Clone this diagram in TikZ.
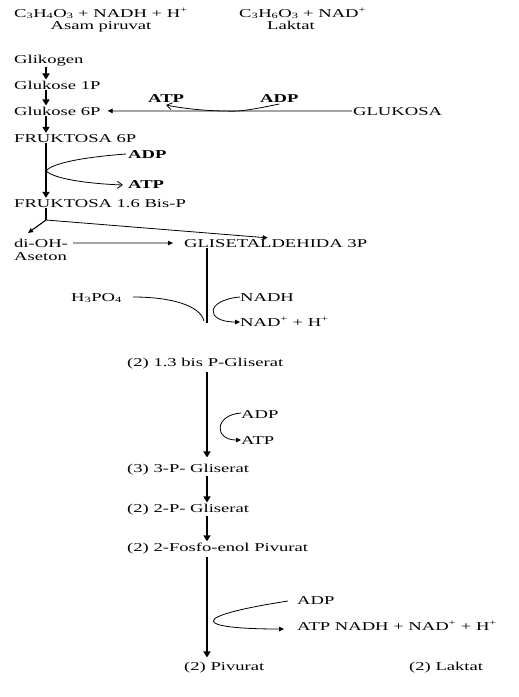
\documentclass[tikz,border=0pt]{standalone}
\usepackage{fontspec}
\setmainfont{Liberation Serif}[FakeStretch=1.55]
\usetikzlibrary{arrows.meta,calc}
\begin{document}
\begin{tikzpicture}[x=1pt,y=-1pt,
  txt/.style={anchor=base west, inner sep=1pt, font=\fontsize{12}{14}\selectfont},
  bld/.style={txt, font=\fontsize{12}{14}\selectfont\bfseries},
  ln/.style={line width=0.8pt},
  fa/.style={ln, -{Triangle[length=5pt,width=4.5pt]}},
  oa/.style={ln, -{Straight Barb[length=5pt,width=7pt]}},
  mainarr/.style={line width=1.4pt, -{Triangle[length=6pt,width=7pt]}},
  mainln/.style={line width=1.4pt}]
\useasboundingbox (0,0) rectangle (519,697);
% top equation
\node[txt] (pir) at (13,17) {C\textsubscript{3}H\textsubscript{4}O\textsubscript{3} + NADH + H\textsuperscript{+}};
\node[txt, anchor=base] (asam) at (101,29) {Asam piruvat};
\node[txt] (lak) at (238,17) {C\textsubscript{3}H\textsubscript{6}O\textsubscript{3} + NAD\textsuperscript{+}};
\node[txt, anchor=base] (lakn) at (291,29) {Laktat};
% column coordinates
\coordinate (cA) at (46,0);
\coordinate (cB) at (207,0);
% left column
\node[txt] (glik) at (13,63) {Glikogen};
\node[txt] (g1p) at (13,89) {Glukose 1P};
\node[txt] (g6p) at (13,115) {Glukose 6P};
\node[txt] (f6p) at (13,142) {FRUKTOSA 6P};
\node[bld] (adp1) at (127,158) {ADP};
\node[bld] (atp1) at (127,188) {ATP};
\node[txt] (f16) at (13,207) {FRUKTOSA 1.6 Bis-P};
\node[bld] (atp0) at (147,102) {ATP};
\node[bld] (adp0) at (259,102) {ADP};
\node[txt] (gluk) at (352,115) {GLUKOSA};
\node[txt] (dioh) at (13,247) {di-OH-};
\node[txt] (aset) at (13,260) {Aseton};
\node[txt] (gal) at (183,247) {GLISETALDEHIDA 3P};
\node[txt] (h3) at (70,301) {H\textsubscript{3}PO\textsubscript{4}};
\node[txt] (nadh) at (239,301) {NADH};
\node[txt] (nad) at (239,326) {NAD\textsuperscript{+} + H\textsuperscript{+}};
\node[txt] (bpg) at (126,366) {(2) 1.3 bis P-Gliserat};
\node[txt] (adp2) at (240,418) {ADP};
\node[txt] (atp2) at (240,444) {ATP};
\node[txt] (p3) at (126,472) {(3) 3-P- Gliserat};
\node[txt] (p2) at (126,512) {(2) 2-P- Gliserat};
\node[txt] (pep) at (126,551) {(2) 2-Fosfo-enol Pivurat};
\node[txt] (adp3) at (296,604) {ADP};
\node[txt] (atp3) at (296,630) {ATP NADH + NAD\textsuperscript{+} + H\textsuperscript{+}};
\node[txt] (piv) at (183,670) {(2) Pivurat};
\node[txt] (lak2) at (408,670) {(2) Laktat};
% connectors, left column
\draw[mainarr] (glik.south -| cA) -- (g1p.north -| cA);
\draw[mainarr] (g1p.south -| cA) -- (g6p.north -| cA);
\draw[mainarr] (g6p.south -| cA) -- (f6p.north -| cA);
\coordinate (br1) at (46,171);
\draw[mainarr] (f6p.south -| cA) -- (f16.north -| cA);
\draw[ln] ($(adp1.base west)+(-1,-4)$) .. controls (85,157) and (52,163) .. (br1);
\draw[oa] (br1) .. controls (56,180) and (95,184) .. ($(atp1.base west)+(-4,-3)$);
% glukosa
\draw[fa, shorten >=6pt] (gluk.west) -- (g6p.east);
\coordinate (tch) at (226,111);
\draw[oa] ($(adp0.base)+(0,2)$) .. controls (255,109) and (240,112) .. (tch) .. controls (205,111) and (180,108) .. ($(atp0.base)+(0,3)$);
% fructose 1.6 split
\coordinate (br2) at (46,220);
\coordinate (d1) at (28,233);
\draw[mainln] (f16.south -| cA) -- (br2);
\draw[fa, line width=1.1pt] (br2) -- (d1);
\draw[fa] (br2) -- ($(gal.north)+(-8,0)$);
\draw[fa, shorten <=4pt, shorten >=10pt] (dioh.east) -- (gal.west);
% glyceraldehyde step
\coordinate (j1) at (207,323);
\draw[mainln] (gal.south -| cB) -- (j1);
\draw[ln] ($(h3.base east)+(10,-4)$) .. controls (170,297) and (200,305) .. (204,321);
\draw[fa] ($(nadh.base west)+(1,-4)$) .. controls (205,300) and (205,322) .. ($(nad.base west)+(1,-4)$);
% lower column
\draw[mainarr, shorten <=2pt, shorten >=5pt] (bpg.south -| cB) -- (p3.north -| cB);
\draw[fa] ($(adp2.base west)+(1,-5)$) .. controls (214,415) and (214,440) .. ($(atp2.base west)+(1,-4)$);
\draw[mainarr] (p3.south -| cB) -- (p2.north -| cB);
\draw[mainarr] (p2.south -| cB) -- (pep.north -| cB);
\draw[mainarr, shorten <=2pt, shorten >=3pt] (pep.south -| cB) -- (piv.north -| cB);
\draw[fa] ($(adp3.base west)+(-8,-3)$) .. controls (185,617) and (195,629) .. ($(atp3.base west)+(-12,-1)$);
\end{tikzpicture}
\end{document}
